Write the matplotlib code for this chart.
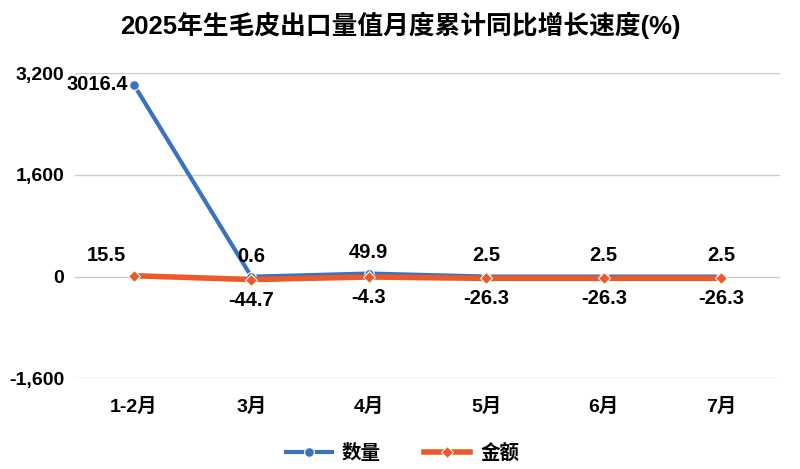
import matplotlib
matplotlib.use("Agg")
import matplotlib.pyplot as plt
import numpy as np

plt.rcParams['font.family'] = ['Liberation Sans', 'Noto Sans CJK SC', 'DejaVu Sans']
plt.rcParams['font.weight'] = 'bold'

months = ["1-2月", "3月", "4月", "5月", "6月", "7月"]
qty = [3016.4, 0.6, 49.9, 2.5, 2.5, 2.5]
val = [15.5, -44.7, -4.3, -26.3, -26.3, -26.3]
yticks = [-1600, 0, 1600, 3200]

BLUE = "#3a72c0"
ORANGE = "#ec5a2a"

fig = plt.figure(figsize=(8.0, 4.69), dpi=100)
ax = fig.add_axes([0.094, 0.193, 0.881, 0.651])
x = np.arange(len(months))

ax.plot(x, qty, color=BLUE, lw=3, marker="o", ms=7, mfc=BLUE, mec="white",
        mew=0.8, label="数量", zorder=3)
ax.plot(x, val, color=ORANGE, lw=4, marker="D", ms=6, mfc=ORANGE, mec="white",
        mew=0.8, label="金额", zorder=4)

fs = 14.5
for i, (q, v) in enumerate(zip(qty, val)):
    if i == 0:
        ax.annotate(f"{q}", (i, q), xytext=(-4, 0), textcoords="offset points",
                    ha="right", va="center", fontsize=fs, fontweight="bold")
        ax.annotate(f"{v}", (i, v), xytext=(-6, 8), textcoords="offset points",
                    ha="right", va="bottom", fontsize=fs, fontweight="bold")
    else:
        ax.annotate(f"{q}", (i, q), xytext=(0, 8), textcoords="offset points",
                    ha="center", va="bottom", fontsize=fs, fontweight="bold")
        ax.annotate(f"{v}", (i, v), xytext=(0, -8), textcoords="offset points",
                    ha="center", va="top", fontsize=fs, fontweight="bold")

ax.set_xlim(-0.5, len(months) - 0.5)
ax.set_ylim(-1600, 3200)
ax.set_yticks(yticks)
ax.set_yticklabels([f"{t:,}" for t in yticks], fontsize=14, fontweight="bold")
ax.set_xticks(x)
ax.set_xticklabels(months, fontsize=14, fontweight="bold")
ax.tick_params(axis="y", length=0, pad=8)
ax.tick_params(axis="x", length=0, pad=14)
ax.grid(axis="y", color="#cccccc", lw=1)
ax.set_axisbelow(True)
for s in ax.spines.values():
    s.set_visible(False)

fig.suptitle("2025年生毛皮出口量值月度累计同比增长速度(%)", fontsize=18.5,
             fontweight="bold", y=0.975)
fig.legend(loc="lower center", ncol=2, frameon=False, bbox_to_anchor=(0.503, -0.025),
           prop={"size": 14, "weight": "bold"}, handlelength=2.4, columnspacing=2.2,
           handletextpad=0.5)

fig.savefig("out.png", dpi=100)
